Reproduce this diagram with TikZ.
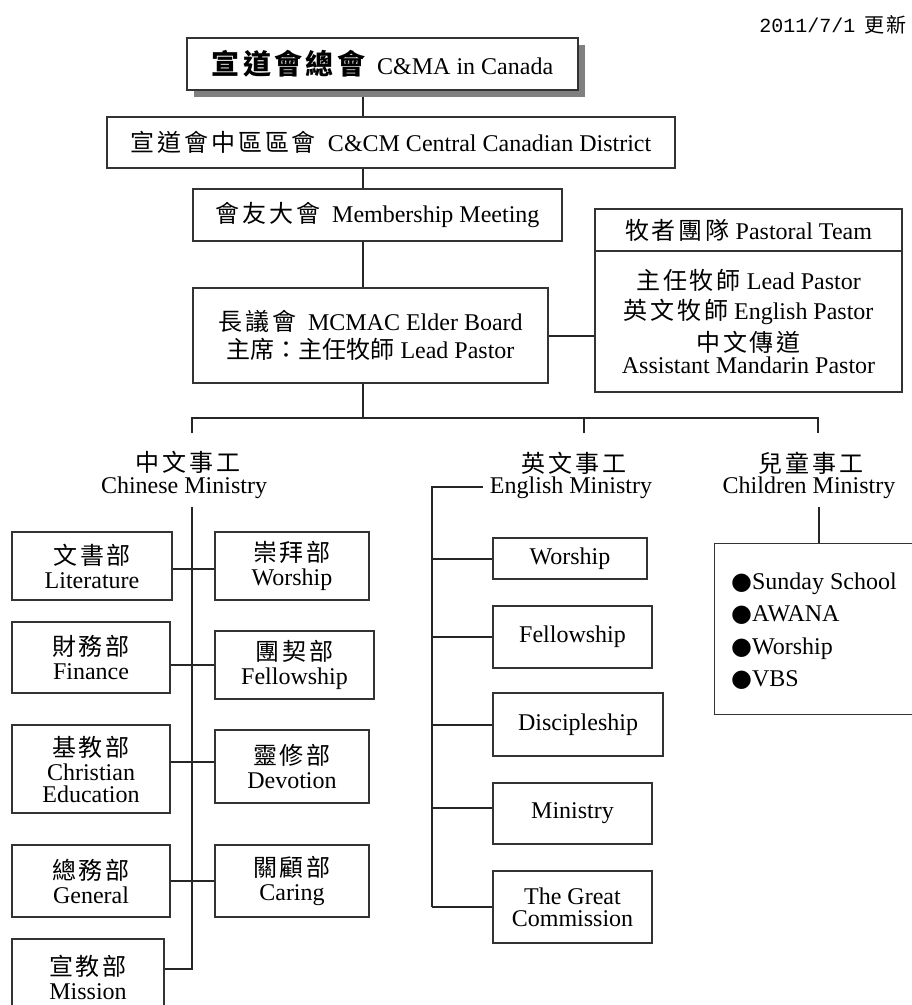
\documentclass[tikz,border=0pt]{standalone}
\usepackage{fontspec}
\setmainfont{Liberation Serif}
\newfontfamily\zhfont[LetterSpace=12]{Noto Sans CJK TC}
\newfontfamily\zhtight{Noto Sans CJK TC}
\newfontfamily\datefont{Liberation Mono}
\newfontfamily\bulfont{DejaVu Sans}
\usetikzlibrary{shadows,backgrounds}
\newcommand\zh[1]{{\zhfont #1}}
\newcommand\zhn[1]{{\zhtight #1}}
\newcommand\bul{{\bulfont ●}}
\begin{document}
\begin{tikzpicture}[x=1pt,y=-1pt,
  every node/.style={font=\fontsize{24}{24}\selectfont, text=black},
  box/.style={draw=black!80, line width=1.3pt, fill=white, inner sep=2pt, align=center},
  conn/.style={draw=black!85, line width=2pt},
  lbl/.style={inner sep=0pt, anchor=base}]
\useasboundingbox (0,0) rectangle (912,1005);

% date
\node[lbl, anchor=base east] (date) at (907,32) {{\datefont\fontsize{20}{20}\selectfont 2011/7/1}\hspace{9pt}{\zhfont\fontsize{20}{20}\selectfont 更新}};

% top hierarchy
\node[box, minimum width=391, minimum height=52,
  drop shadow={shadow xshift=7pt, shadow yshift=-7pt, fill=black!50, opacity=1}]
  (cma) at (382.5,64) {{\zhfont\fontsize{28}{30}\selectfont\bfseries 宣道會總會}\hspace{12pt}C\&MA in Canada};
\node[box, minimum width=568, minimum height=51] (dist) at (391,142.5) {\zh{宣道會中區區會}\hspace{12pt}C\&CM Central Canadian District};
\node[box, minimum width=369, minimum height=52] (memb) at (377.5,215) {\zh{會友大會}\hspace{12pt}Membership Meeting};
\node[box, minimum width=355, minimum height=95] (elder) at (370.5,335.5) {\zh{長議會}\hspace{12pt}MCMAC Elder Board\\[4pt]\zhn{主席：主任牧師} Lead Pastor};

% pastoral team
\node[box, minimum width=307, minimum height=42] (phead) at (748.5,230) {\zh{牧者團隊} Pastoral Team};
\node[box, minimum width=307, minimum height=141] (pbody) at (748.5,321.5) {\zh{主任牧師} Lead Pastor\\[6pt]\zh{英文牧師} English Pastor\\[6pt]\zh{中文傳道}\\[-2pt]Assistant Mandarin Pastor};

% ministry headers
\node[lbl] (cmzh) at (188,471) {\zh{中文事工}};
\node[lbl] (cmen) at (184,493) {Chinese Ministry};
\node[lbl] (emzh) at (574,472.5) {\zh{英文事工}};
\node[lbl] (emen) at (571,493) {English Ministry};
\node[lbl] (chzh) at (811,472.5) {\zh{兒童事工}};
\node[lbl] (chen) at (809,493) {Children Ministry};

% Chinese ministry departments
\node[box, minimum width=160, minimum height=68] (lit) at (92,566) {\zh{文書部}\\Literature};
\node[box, minimum width=158, minimum height=71] (fin) at (91,657.5) {\zh{財務部}\\Finance};
\node[box, minimum width=158, minimum height=88] (ced) at (91,769) {\zh{基教部}\\Christian\\[-2pt]Education};
\node[box, minimum width=158, minimum height=72] (cgen) at (91,881) {\zh{總務部}\\General};
\node[box, minimum width=152, minimum height=76] (mis) at (88,977) {\zh{宣教部}\\Mission};
\node[box, minimum width=154, minimum height=68] (cwor) at (292,566) {\zh{崇拜部}\\Worship};
\node[box, minimum width=159, minimum height=68] (cfel) at (294.5,665) {\zh{團契部}\\Fellowship};
\node[box, minimum width=154, minimum height=73] (cdev) at (292,766.5) {\zh{靈修部}\\Devotion};
\node[box, minimum width=154, minimum height=72] (ccar) at (292,881) {\zh{關顧部}\\Caring};

% English ministry
\node[box, minimum width=154, minimum height=41] (ewor) at (570,558.5) {Worship};
\node[box, minimum width=159, minimum height=62] (efel) at (572.5,637) {Fellowship};
\node[box, minimum width=170, minimum height=63] (edis) at (578,724.5) {Discipleship};
\node[box, minimum width=159, minimum height=61] (emin) at (572.5,813.5) {Ministry};
\node[box, minimum width=159, minimum height=72] (egc) at (572.5,907) {The Great\\[-2pt]Commission};

% Children ministry
\node[box, minimum width=216, minimum height=171, anchor=north west, inner sep=0pt] (cbox) at (714,543) {};
\node[inner sep=0pt, anchor=west, align=left, font=\fontsize{24}{32.3}\selectfont] (clist) at (731,631) {\bul Sunday School\\\bul AWANA\\\bul Worship\\\bul VBS};

% connectors
\coordinate (spine) at (363,0);
\coordinate (barL) at (192,418);
\coordinate (barM) at (584,418);
\coordinate (barR) at (818,418);
\coordinate (cbar) at (192,507);
\coordinate (ebar) at (432,487);
\coordinate (chtop) at (819,507);
\coordinate (mconn) at ([yshift=8pt]mis.east);
\coordinate (cw1) at ([yshift=-3pt]cwor.west);
\coordinate (cw3) at ([yshift=4.5pt]cdev.west);
\coordinate (emc) at ([yshift=6pt]emin.west);
\coordinate (eml) at ([xshift=-7pt]emen.west);

\begin{scope}[on background layer]
\draw[conn] (cma.south -| spine) -- (dist.north -| spine);
\draw[conn] (dist.south -| spine) -- (memb.north -| spine);
\draw[conn] (memb.south -| spine) -- (elder.north -| spine);
\draw[conn] (elder.south -| spine) -- (spine |- barL);
\draw[conn] ([yshift=-15pt]barL) -- (barL) -- (barR) -- ([yshift=-15pt]barR);
\draw[conn] (barM) -- ([yshift=-15pt]barM);
\draw[conn] (elder.east) -- (elder.east -| pbody.west);

\draw[conn] (cbar) -- (cbar |- mconn) -- (mconn);
\draw[conn] (lit.east |- cw1) -- (cw1);
\draw[conn] (fin.east |- cfel.west) -- (cfel.west);
\draw[conn] (ced.east |- cw3) -- (cw3);
\draw[conn] (cgen.east |- ccar.west) -- (ccar.west);

\draw[conn] (eml |- ebar) -- (ebar) -- (ebar |- egc.west);
\draw[conn] (ebar |- ewor.west) -- (ewor.west);
\draw[conn] (ebar |- efel.west) -- (efel.west);
\draw[conn] (ebar |- edis.west) -- (edis.west);
\draw[conn] (ebar |- emc) -- (emc);
\draw[conn] (ebar |- egc.west) -- (egc.west);

\draw[conn] (chtop) -- (chtop |- cbox.north);
\end{scope}
\end{tikzpicture}
\end{document}
